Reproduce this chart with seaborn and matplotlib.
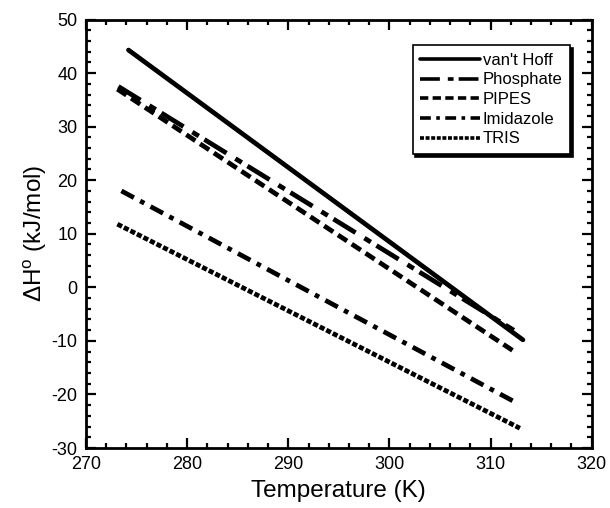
import pandas as pd
import numpy as np
import seaborn as sns
import matplotlib.pyplot as plt
from matplotlib.ticker import MultipleLocator

sns.set_style('ticks')
plt.rcParams['font.family'] = ['Liberation Sans', 'DejaVu Sans']
plt.rcParams['mathtext.fontset'] = 'custom'
plt.rcParams['mathtext.rm'] = 'Liberation Sans'
plt.rcParams['mathtext.it'] = 'Liberation Sans:italic'
plt.rcParams['axes.unicode_minus'] = False
plt.rcParams['text.color'] = 'black'
plt.rcParams['axes.labelcolor'] = 'black'

# endpoints of each straight line
buffers = ["van't Hoff", 'Phosphate', 'PIPES', 'Imidazole', 'TRIS']
t_start = [274.2, 273.2, 273.1, 273.5, 273.1]
t_end = [313.2, 312.3, 312.6, 312.7, 312.9]
dh_start = [44.3, 37.5, 37.0, 18.0, 11.8]
dh_end = [-9.8, -8.0, -12.3, -21.7, -26.3]

rows = []
for b, t0, t1, h0, h1 in zip(buffers, t_start, t_end, dh_start, dh_end):
    rows.append({'T': t0, 'dH': h0, 'buffer': b})
    rows.append({'T': t1, 'dH': h1, 'buffer': b})
df = pd.DataFrame(rows)

dash_styles = {
    "van't Hoff": '',
    'Phosphate': (5.5, 2.2, 1.6, 1.4),
    'PIPES': (2.3, 1.2),
    'Imidazole': (3.0, 1.5, 1.0, 1.5),
    'TRIS': (1.1, 0.45),
}

fig, ax = plt.subplots(figsize=(6.1, 5.08), dpi=100)
fig.subplots_adjust(left=0.141, right=0.970, bottom=0.118, top=0.9616)

sns.lineplot(data=df, x='T', y='dH', style='buffer', style_order=buffers,
             dashes=dash_styles, color='black', linewidth=3.4, ax=ax,
             estimator=None, sort=False)

ax.set_xlim(270, 320)
ax.set_ylim(-30, 50)
ax.xaxis.set_major_locator(MultipleLocator(10))
ax.xaxis.set_minor_locator(MultipleLocator(2))
ax.yaxis.set_major_locator(MultipleLocator(10))
ax.yaxis.set_minor_locator(MultipleLocator(2))
ax.tick_params(which='both', direction='in', top=True, right=True,
               width=1.6, colors='black', labelsize=13)
ax.tick_params(which='major', length=7.2, pad=6)
ax.tick_params(which='minor', length=3.6)
for s in ax.spines.values():
    s.set_linewidth(2)
    s.set_color('black')

ax.set_xlabel('Temperature (K)', fontsize=17.5, labelpad=5)
ax.set_ylabel(r'$\Delta$H$^{\rm o}$ (kJ/mol)', fontsize=17.5, labelpad=2)

handles, labels = ax.get_legend_handles_labels()
leg = ax.legend(handles, labels, loc='upper right', bbox_to_anchor=(0.957, 0.94),
                borderaxespad=0, fontsize=12, handlelength=3.6, handletextpad=0.15,
                labelspacing=0.28, borderpad=0.45, frameon=True, fancybox=False,
                shadow={'color': 'black', 'alpha': 1})
leg.get_frame().set_edgecolor('black')
leg.get_frame().set_linewidth(1.2)
for line in leg.get_lines():
    line.set_linewidth(2.6)

plt.savefig('out.png', dpi=100)
